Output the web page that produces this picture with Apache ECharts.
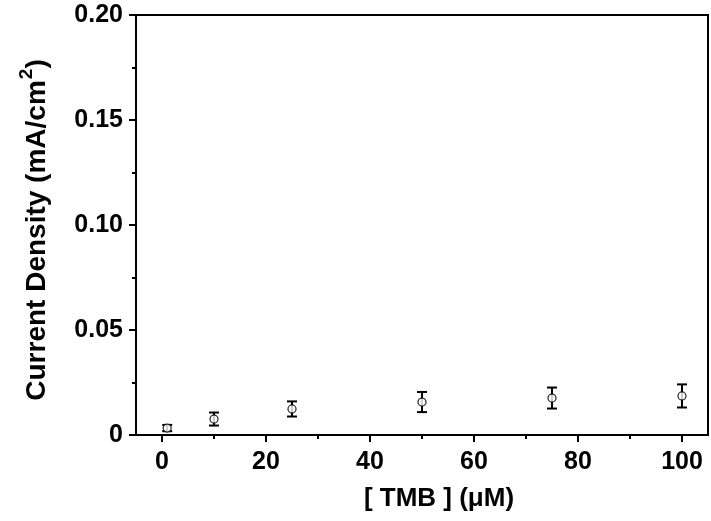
<!DOCTYPE html>
<html>
<head>
<meta charset="utf-8">
<script src="https://cdn.jsdelivr.net/npm/echarts@6/dist/echarts.min.js"></script>
<style>
  html, body { margin: 0; padding: 0; background: #fff; }
  #chart { width: 711px; height: 521px; }
</style>
</head>
<body>
<div id="chart"></div>
<script>
// TMB concentration (µM)
const concentrations = [1, 10, 25, 50, 75, 100];
// Mean current density (mA/cm²)
const currentDensity = [0.0033, 0.0076, 0.0124, 0.0157, 0.0176, 0.0186];
// Error bar half-widths (mA/cm²)
const errors = [0.0015, 0.0031, 0.0036, 0.0048, 0.0050, 0.0055];

const xMajorTicks = [0, 20, 40, 60, 80, 100];
const xMinorTicks = [10, 30, 50, 70, 90];

const FONT = 'Liberation Sans, Arial, sans-serif';

const points = concentrations.map((c, i) => [c, currentDensity[i]]);
const bars = concentrations.map((c, i) => [c, currentDensity[i] - errors[i], currentDensity[i] + errors[i]]);

const chart = echarts.init(document.getElementById('chart'));
chart.setOption({
  animation: false,
  grid: {
    left: 136, right: 3, top: 15, bottom: 86,
    show: true, borderColor: '#000', borderWidth: 2, backgroundColor: 'transparent'
  },
  xAxis: [
    {
      type: 'value', min: -5, max: 105,
      splitLine: { show: false },
      axisLine: { onZero: false, lineStyle: { color: '#000', width: 2 } },
      axisTick: { show: true, customValues: xMajorTicks, length: 7, lineStyle: { color: '#000', width: 2 } },
      axisLabel: {
        customValues: xMajorTicks, margin: 15,
        color: '#000', fontFamily: FONT, fontWeight: 'bold', fontSize: 25
      },
      name: '[ TMB ] (\u03bcM)', nameLocation: 'middle', nameGap: 51,
      nameTextStyle: { color: '#000', fontFamily: FONT, fontWeight: 'bold', fontSize: 26, padding: [0, 0, 0, 34] }
    },
    {
      type: 'value', min: -5, max: 105, position: 'bottom',
      splitLine: { show: false },
      axisLine: { show: false, onZero: false },
      axisTick: { show: true, customValues: xMinorTicks, length: 4, lineStyle: { color: '#000', width: 2 } },
      axisLabel: { show: false }
    }
  ],
  yAxis: {
    type: 'value', min: 0, max: 0.2, interval: 0.05,
    splitLine: { show: false },
    axisLine: { show: true, onZero: false, lineStyle: { color: '#000', width: 2 } },
    axisTick: { show: true, length: 7, lineStyle: { color: '#000', width: 2 } },
    minorTick: { show: true, splitNumber: 2, length: 4, lineStyle: { color: '#000', width: 2 } },
    axisLabel: {
      margin: 13, color: '#000', fontFamily: FONT, fontWeight: 'bold', fontSize: 25,
      formatter: v => (v === 0 ? '0' : v.toFixed(2))
    },
    name: '{a|Current Density (mA/cm}{s|2}{a|)}',
    nameLocation: 'middle', nameGap: 85, nameRotate: 90,
    nameTextStyle: {
      padding: [0, 10, 0, 0],
      rich: {
        a: { color: '#000', fontFamily: FONT, fontWeight: 'bold', fontSize: 28, lineHeight: 34, verticalAlign: 'bottom' },
        s: { color: '#000', fontFamily: FONT, fontWeight: 'bold', fontSize: 19, lineHeight: 26, verticalAlign: 'top', padding: [0, 0, 0, 1] }
      }
    }
  },
  series: [
    {
      type: 'custom',
      xAxisIndex: 0,
      data: bars,
      renderItem: (params, api) => {
        const x = api.value(0);
        const lo = api.coord([x, api.value(1)]);
        const hi = api.coord([x, api.value(2)]);
        const cap = 5;
        const style = { stroke: '#000', lineWidth: 2 };
        return {
          type: 'group',
          children: [
            { type: 'line', shape: { x1: lo[0], y1: lo[1], x2: hi[0], y2: hi[1] }, style },
            { type: 'line', shape: { x1: lo[0] - cap, y1: lo[1], x2: lo[0] + cap, y2: lo[1] }, style },
            { type: 'line', shape: { x1: hi[0] - cap, y1: hi[1], x2: hi[0] + cap, y2: hi[1] }, style }
          ]
        };
      },
      z: 2
    },
    {
      type: 'scatter',
      xAxisIndex: 0,
      data: points,
      symbol: 'circle',
      symbolSize: 8,
      itemStyle: { color: '#fff', borderColor: '#000', borderWidth: 1.3 },
      z: 3
    }
  ]
});
</script>
</body>
</html>
